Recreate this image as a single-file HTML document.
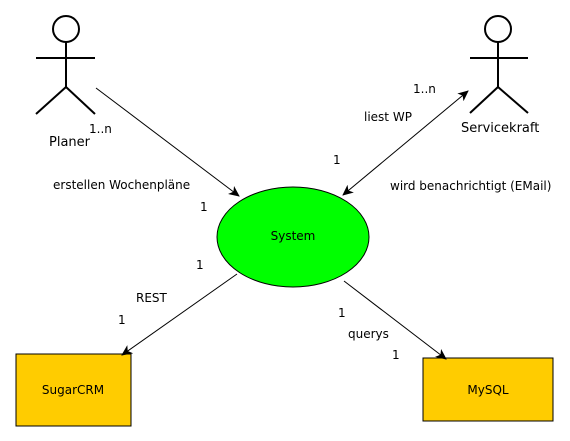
<!DOCTYPE html>
<html><head><meta charset="utf-8"><style>
html,body{margin:0;padding:0;background:#fff;}
svg{display:block;font-family:"DejaVu Sans","Liberation Sans",sans-serif;}
</style></head><body>
<svg width="570" height="441" viewBox="0 0 570 441" xmlns="http://www.w3.org/2000/svg">
<defs>
<marker id="a" markerWidth="12" markerHeight="10" refX="10" refY="5" orient="auto" markerUnits="userSpaceOnUse">
<path d="M0,0 L11,5 L0,10 L3,5 Z" fill="#000"/>
</marker>
<marker id="s" markerWidth="12" markerHeight="10" refX="1" refY="5" orient="auto" markerUnits="userSpaceOnUse">
<path d="M11,0 L0,5 L11,10 L8,5 Z" fill="#000"/>
</marker>
</defs>
<g stroke="#000" stroke-width="2" fill="none">
<circle cx="66" cy="29" r="13" fill="#fff"/>
<line x1="66" y1="42" x2="66" y2="87"/>
<line x1="36" y1="58" x2="95" y2="58"/>
<line x1="66" y1="87" x2="36" y2="114"/>
<line x1="66" y1="87" x2="95" y2="114"/>
<circle cx="498" cy="29" r="13" fill="#fff"/>
<line x1="498" y1="42" x2="498" y2="87"/>
<line x1="470" y1="58" x2="528" y2="58"/>
<line x1="498" y1="87" x2="470" y2="113"/>
<line x1="498" y1="87" x2="528" y2="113"/>
</g>
<ellipse cx="293" cy="237" rx="76" ry="50" fill="#00ff00" stroke="#000" stroke-width="1"/>
<rect x="16" y="354" width="115" height="72" fill="#ffcc00" stroke="#000" stroke-width="1"/>
<rect x="423" y="358" width="130" height="63" fill="#ffcc00" stroke="#000" stroke-width="1"/>
<g stroke="#000" stroke-width="1">
<line x1="96" y1="88" x2="239" y2="196" marker-end="url(#a)"/>
<line x1="343" y1="195" x2="468" y2="91" marker-start="url(#s)" marker-end="url(#a)"/>
<line x1="237" y1="274" x2="122" y2="355" marker-end="url(#a)"/>
<line x1="344" y1="281" x2="446" y2="359" marker-end="url(#a)"/>
</g>
<g font-size="12" fill="#000">
<text x="293" y="240" text-anchor="middle">System</text>
<text x="73" y="394" text-anchor="middle">SugarCRM</text>
<text x="488" y="394" text-anchor="middle">MySQL</text>
<text x="89" y="133">1..n</text>
<text x="53" y="189">erstellen Wochenpläne</text>
<text x="200" y="211">1</text>
<text x="413" y="93">1..n</text>
<text x="364" y="121">liest WP</text>
<text x="333" y="164">1</text>
<text x="390" y="190">wird benachrichtigt (EMail)</text>
<text x="196" y="269">1</text>
<text x="136" y="302">REST</text>
<text x="118" y="324">1</text>
<text x="338" y="317">1</text>
<text x="348" y="338">querys</text>
<text x="392" y="359">1</text>
</g>
<g font-size="13" fill="#000">
<text x="49" y="146">Planer</text>
<text x="461" y="132">Servicekraft</text>
</g>
</svg>
</body></html>
